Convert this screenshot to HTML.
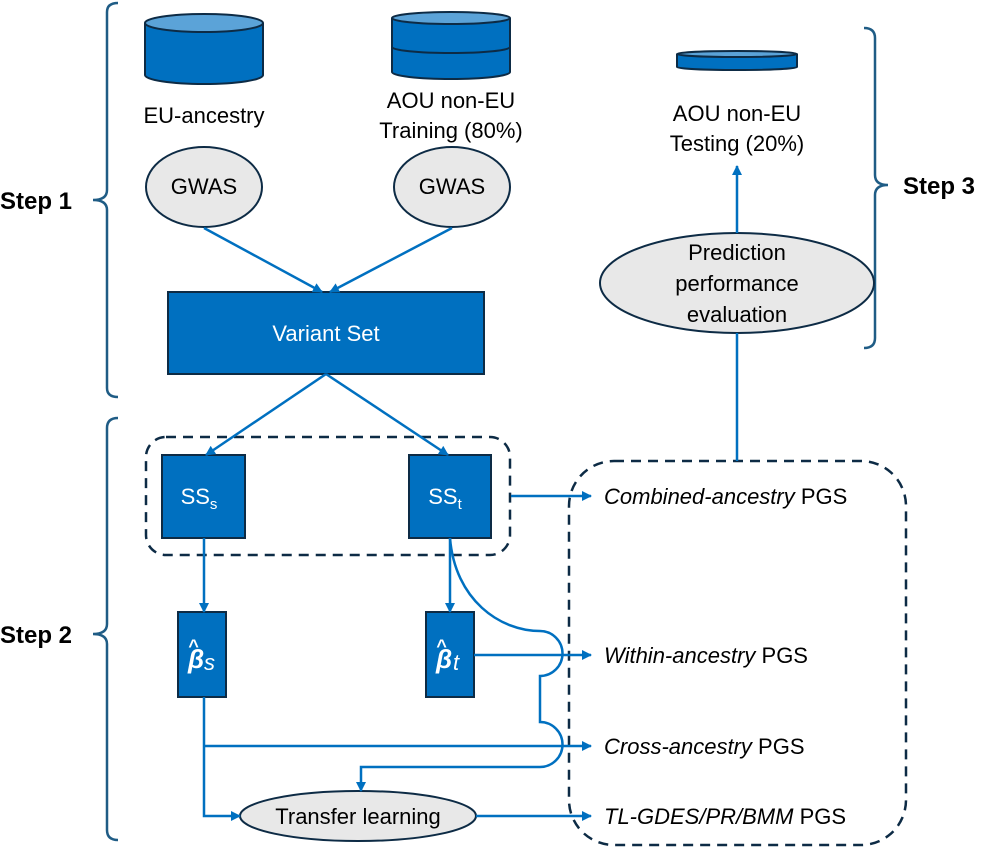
<!DOCTYPE html>
<html><head><meta charset="utf-8"><style>
body{margin:0;background:#fff}
text{font-family:"Liberation Sans",sans-serif}
</style></head><body>
<svg width="1000" height="848" viewBox="0 0 1000 848" xmlns="http://www.w3.org/2000/svg">
<defs>
<marker id="a" markerWidth="10" markerHeight="10" refX="9" refY="5" orient="auto" markerUnits="userSpaceOnUse"><path d="M0,0 L10,5 L0,10 z" fill="#0070C0"/></marker>
</defs>
<!-- brackets -->
<g fill="none" stroke="#1F5C85" stroke-width="2.5">
<path d="M118,3 Q107,3 107,12 L107,190 Q107,200 93,200 Q107,200 107,210 L107,388 Q107,397 118,397"/>
<path d="M118,418 Q107,418 107,428 L107,624 Q107,634 93,634 Q107,634 107,644 L107,830 Q107,840 118,840"/>
<path d="M864,28 Q875,28 875,38 L875,175 Q875,185 888,185 Q875,185 875,195 L875,338 Q875,348 864,348"/>
</g>
<g font-weight="bold" font-size="24" fill="#000">
<text x="0" y="209">Step 1</text>
<text x="0" y="643">Step 2</text>
<text x="903" y="194">Step 3</text>
</g>
<!-- cylinders -->
<g stroke="#0D2B45" stroke-width="2" fill="#0070C0">
<path d="M145,23 L145,75 A59,9 0 0 0 263,75 L263,23"/>
<ellipse cx="204" cy="23" rx="59" ry="9" fill="#5BA3D8"/>
<path d="M392,18 L392,72 A59,7 0 0 0 510,72 L510,18"/>
<path d="M392,47 A59,6 0 0 0 510,47" fill="none"/>
<ellipse cx="451" cy="18" rx="59" ry="6" fill="#5BA3D8"/>
<path d="M677,54 L677,67 A60,3 0 0 0 797,67 L797,54"/>
<ellipse cx="737" cy="54" rx="60" ry="3" fill="#5BA3D8"/>
</g>
<g font-size="22" fill="#000" text-anchor="middle">
<text x="204" y="123">EU-ancestry</text>
<text x="451" y="108">AOU non-EU</text>
<text x="451" y="138">Training  (80%)</text>
<text x="737" y="121">AOU non-EU</text>
<text x="737" y="151">Testing  (20%)</text>
</g>
<!-- ellipses -->
<g stroke="#0D2B45" stroke-width="2" fill="#E8E8E8">
<ellipse cx="204" cy="187" rx="58" ry="40"/>
<ellipse cx="452" cy="187" rx="58" ry="40"/>
<ellipse cx="737" cy="283" rx="137" ry="50"/>
<ellipse cx="358" cy="816" rx="118" ry="25"/>
</g>
<g font-size="22" fill="#000" text-anchor="middle">
<text x="204" y="194">GWAS</text>
<text x="452" y="194">GWAS</text>
<text x="737" y="260">Prediction</text>
<text x="737" y="291">performance</text>
<text x="737" y="322">evaluation</text>
<text x="358" y="824">Transfer learning</text>
</g>
<!-- boxes -->
<g stroke="#0D2B45" stroke-width="2" fill="#0070C0">
<rect x="168" y="292" width="316" height="82"/>
<rect x="162" y="455" width="83" height="83"/>
<rect x="409" y="455" width="82" height="83"/>
<rect x="178" y="612" width="48" height="85"/>
<rect x="426" y="612" width="48" height="85"/>
</g>
<g fill="#fff" text-anchor="middle">
<text x="326" y="341" font-size="22">Variant Set</text>
<text x="199" y="504" font-size="22">SS<tspan font-size="15" dy="5">s</tspan></text>
<text x="445" y="504" font-size="22">SS<tspan font-size="15" dy="5">t</tspan></text>
</g>
<g fill="#fff" font-family="Liberation Serif,serif" font-style="italic">
<text x="188" y="668" font-size="26" font-weight="bold">β</text>
<text x="188" y="652" font-size="18" font-weight="bold">^</text>
<text x="204" y="670" font-size="22">s</text>
<text x="436" y="668" font-size="26" font-weight="bold">β</text>
<text x="436" y="652" font-size="18" font-weight="bold">^</text>
<text x="453" y="670" font-size="22">t</text>
</g>
<!-- dashed -->
<g fill="none" stroke="#0D2B45" stroke-width="2.5" stroke-dasharray="10,7">
<rect x="146" y="437" width="364" height="118" rx="20"/>
<rect x="569" y="461" width="337" height="384" rx="45"/>
</g>
<!-- connectors -->
<g fill="none" stroke="#0070C0" stroke-width="2.5" marker-end="url(#a)">
<path d="M204,228 L322,292"/>
<path d="M452,228 L330,292"/>
<path d="M326,374 L206,455"/>
<path d="M326,374 L448,455"/>
<path d="M204,538 L204,612"/>
<path d="M450,538 L450,612"/>
<path d="M511,496 L591,496"/>
<path d="M474,655 L591,655"/>
<path d="M204,697 L204,816 L240,816"/>
<path d="M204,746 L591,746"/>
<path d="M476,816 L591,816"/>
<path d="M737,461 L737,333" marker-end="none"/>
<path d="M737,233 L737,166"/>
<path d="M450,538 C455,600 500,631 540,631 A22,22 0 0 1 540,676 L540,722 A22,22 0 0 1 540,767 L361,767 L361,791"/>
</g>
<g font-size="22" fill="#000">
<text x="604" y="504"><tspan font-style="italic">Combined-ancestry</tspan> PGS</text>
<text x="604" y="663"><tspan font-style="italic">Within-ancestry</tspan> PGS</text>
<text x="604" y="754"><tspan font-style="italic">Cross-ancestry</tspan> PGS</text>
<text x="604" y="824"><tspan font-style="italic">TL-GDES/PR/BMM</tspan> PGS</text>
</g>
</svg>
</body></html>
